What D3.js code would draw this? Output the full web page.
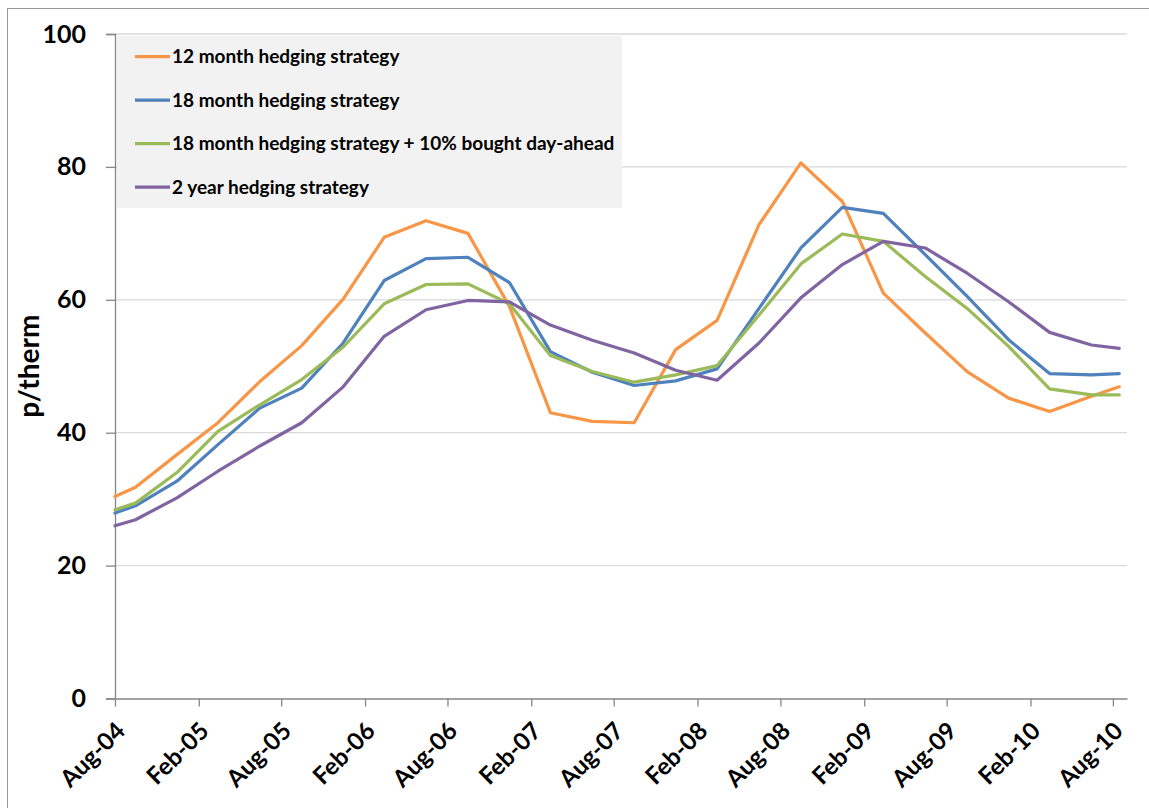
<!DOCTYPE html>
<html>
<head>
<meta charset="utf-8">
<script src="https://cdn.jsdelivr.net/npm/d3@7"></script>
<style>
  body { margin: 0; background: #fff; }
  text { font-family: Lato, "Open Sans", sans-serif; font-weight: bold; fill: #000; }
</style>
</head>
<body>
<div id="chart"></div>
<script>
// data (quarterly points, mid-month)
var dates = ["2004-08-01", "2004-09-15", "2004-12-15", "2005-03-15", "2005-06-15", "2005-09-15",
  "2005-12-15", "2006-03-15", "2006-06-15", "2006-09-15", "2006-12-15", "2007-03-15",
  "2007-06-15", "2007-09-15", "2007-12-15", "2008-03-15", "2008-06-15", "2008-09-15",
  "2008-12-15", "2009-03-15", "2009-06-15", "2009-09-15", "2009-12-15", "2010-03-15",
  "2010-06-15", "2010-08-15"];

var hedge12 = [30.4, 31.8, 36.7, 41.5, 47.7, 53.1, 60.1, 69.4, 71.9, 70.0, 59.0, 43.0, 41.7,
  41.5, 52.5, 56.9, 71.3, 80.6, 74.8, 61.0, 55.0, 49.2, 45.2, 43.2, 45.5, 46.9];
var hedge18 = [27.9, 29.0, 32.7, 38.2, 43.7, 46.7, 53.5, 62.9, 66.2, 66.4, 62.6, 52.2, 49.1,
  47.1, 47.8, 49.6, 58.7, 67.8, 73.9, 73.0, 66.8, 60.5, 54.0, 48.9, 48.7, 48.9];
var hedge18da = [28.4, 29.4, 34.0, 40.2, 44.2, 48.0, 52.9, 59.4, 62.3, 62.4, 59.4, 51.6, 49.2,
  47.6, 48.7, 50.1, 57.7, 65.4, 69.9, 68.8, 63.5, 58.7, 53.0, 46.6, 45.7, 45.7];
var hedge24 = [26.0, 26.9, 30.2, 34.2, 38.0, 41.5, 46.9, 54.5, 58.5, 59.9, 59.7, 56.2, 53.9,
  52.0, 49.4, 47.9, 53.5, 60.3, 65.3, 68.8, 67.8, 64.0, 59.7, 55.1, 53.2, 52.7];

var seriesNames = ["12 month hedging strategy", "18 month hedging strategy",
  "18 month hedging strategy + 10% bought day-ahead", "2 year hedging strategy"];
var seriesColors = ["#f79646", "#4f81bd", "#9bbb59", "#8064a2"];

var xTickLabels = ["Aug-04", "Feb-05", "Aug-05", "Feb-06", "Aug-06", "Feb-07", "Aug-07",
  "Feb-08", "Aug-08", "Feb-09", "Aug-09", "Feb-10", "Aug-10"];
var yTicks = [0, 20, 40, 60, 80, 100];

var svgWidth = 1149, svgHeight = 808;
var margin = { top: 34, left: 115, right: 22, bottom: 109.5 };
var width = svgWidth - margin.left - margin.right;
var height = svgHeight - margin.top - margin.bottom;

var parseDay = d3.timeParse("%Y-%m-%d");
var parseTick = d3.timeParse("%b-%y");

var svg = d3.select("#chart").append("svg")
  .attr("width", svgWidth)
  .attr("height", svgHeight);

// outer chart border
svg.append("rect")
  .attr("x", 7.5).attr("y", 8.5)
  .attr("width", 1300).attr("height", 1000)
  .attr("fill", "none")
  .attr("stroke", "#999");

var chartGroup = svg.append("g")
  .attr("transform", `translate(${margin.left}, ${margin.top})`);

var xScale = d3.scaleTime()
  .domain([parseDay("2004-08-01"), parseDay("2010-09-01")])
  .range([0, width]);

var yScale = d3.scaleLinear()
  .domain([0, 100])
  .range([height, 0]);

// gridlines
chartGroup.selectAll("line.grid")
  .data(yTicks.slice(1))
  .enter()
  .append("line")
  .classed("grid", true)
  .attr("x1", 0).attr("x2", width)
  .attr("y1", d => yScale(d)).attr("y2", d => yScale(d))
  .attr("stroke", "#d9d9d9")
  .attr("stroke-width", 1.3);

// y axis
var yAxis = d3.axisLeft(yScale).tickValues(yTicks).tickSize(9).tickPadding(20);
var yG = chartGroup.append("g").call(yAxis);
yG.selectAll("text").style("font-size", "25px");

// x axis
var xAxis = d3.axisBottom(xScale)
  .tickValues(xTickLabels.map(parseTick))
  .tickSize(8)
  .tickSizeOuter(0)
  .tickFormat(d3.timeFormat("%b-%y"));
var xG = chartGroup.append("g")
  .attr("transform", `translate(0, ${height})`)
  .call(xAxis);
xG.selectAll("text")
  .style("font-size", "24px")
  .attr("text-anchor", "end")
  .attr("y", 0).attr("dy", 0)
  .attr("transform", "translate(11, 34) rotate(-45)");

[yG, xG].forEach(function(g) {
  g.select(".domain").attr("stroke", "#868686").attr("stroke-width", 1.3);
  g.selectAll(".tick line").attr("stroke", "#868686").attr("stroke-width", 1.3);
});

// lines
var allSeries = [hedge12, hedge18, hedge18da, hedge24];
var line = d3.line()
  .x((d, i) => xScale(parseDay(dates[i])))
  .y(d => yScale(d));

chartGroup.selectAll("path.series")
  .data(allSeries)
  .enter()
  .append("path")
  .classed("series", true)
  .attr("d", line)
  .attr("fill", "none")
  .attr("stroke", (d, i) => seriesColors[i])
  .attr("stroke-width", 3.2)
  .attr("stroke-linejoin", "round")
  .attr("stroke-linecap", "round");

// legend
var legend = svg.append("g");
legend.append("rect")
  .attr("x", 117).attr("y", 36)
  .attr("width", 505).attr("height", 172)
  .attr("fill", "#f2f2f2");

var rows = legend.selectAll("g.item")
  .data(seriesNames)
  .enter()
  .append("g")
  .classed("item", true)
  .attr("transform", (d, i) => `translate(0, ${56.7 + i * 43.5})`);

rows.append("line")
  .attr("x1", 135).attr("x2", 170)
  .attr("y1", 0).attr("y2", 0)
  .attr("stroke", (d, i) => seriesColors[i])
  .attr("stroke-width", 3.2);

rows.append("text")
  .attr("x", 172)
  .attr("dy", "0.35em")
  .style("font-size", "19px")
  .text(d => d);

// y axis title
chartGroup.append("text")
  .attr("transform", "rotate(-90)")
  .attr("x", -yScale(50))
  .attr("y", -76)
  .attr("text-anchor", "middle")
  .style("font-size", "28px")
  .text("p/therm");
</script>
</body>
</html>
